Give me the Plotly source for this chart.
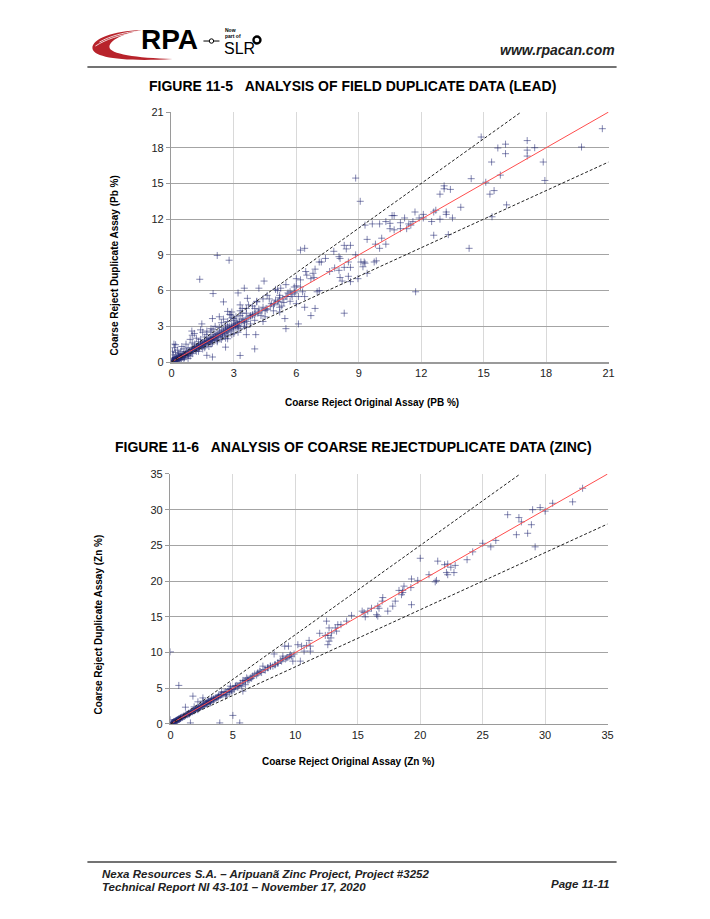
import plotly.graph_objects as go

# ---------------- DATA ----------------
pb_ticks = [0, 3, 6, 9, 12, 15, 18, 21]
zn_ticks = [0, 5, 10, 15, 20, 25, 30, 35]
pb_max = 21
zn_max = 35
upper_ratio = 1.25
lower_ratio = 0.8

pb_original = [
    14.88, 17.09, 20.7, 19.7, 15.68, 16.05, 16.05, 17.09, 17.45, 17.09, 17.86, 15.38, 17.94, 15.8, 14.4, 15.1,
    15.3, 15.5, 16.1, 15.4, 14.3, 13.1, 13.1, 13.4, 12.9, 13.9, 13.2, 13.2, 13.5, 12.9, 12.7, 12.6, 12.5, 13.3,
    12.6, 11.73, 12.1, 12.1, 11.9, 11.7, 11.6, 11.2, 11.4, 11.5, 11.3, 11.0, 10.7, 10.6, 10.5, 10.5, 10.7, 11.0,
    10.3, 10.0, 10.1, 10.3, 10.0, 9.8, 9.84, 9.74, 9.4, 9.07, 8.85, 9.65, 9.3, 9.1, 9.3, 9.26, 9.2, 9.4, 8.96,
    8.85, 8.6, 8.3, 8.4, 8.1, 7.8, 8.05, 8.5, 8.3, 8.05, 8.6, 8.5, 8.6, 8.2, 8.1, 7.84, 8.3, 7.6, 7.2, 7.4, 6.9,
    7.1, 6.8, 6.7, 6.85, 6.5, 6.45, 6.2, 6.4, 7.1, 7.0, 6.9, 6.7, 6.2, 6.0, 6.2, 6.3, 6.1, 6.4, 6.0, 6.4, 6.1,
    5.5, 5.9, 5.7, 5.5, 5.25, 5.1, 5.2, 4.9, 5.1, 5.2, 5.45, 4.45, 4.2, 4.4, 4.1, 4.2, 4.5, 4.05, 3.9, 3.65, 3.5,
    3.3, 3.6, 3.4, 3.2, 2.9, 2.85, 3.0, 3.25, 3.2, 4.05, 3.6, 4.0, 3.3, 2.77, 2.2, 1.36, 2.0, 2.5, 2.7, 1.97,
    2.3, 1.46, 2.6, 0.98, 1.0, 0.2, 2.45, 2.7, 1.97, 2.6, 1.97, 1.7,
    0.05, 0.1, 0.12, 0.2, 0.25, 0.3, 0.35, 0.4, 0.15, 0.3, 0.45, 0.5, 0.55, 0.6, 0.4, 0.65, 0.7, 0.75, 0.8,
    0.85, 0.1, 0.05, 0.2, 0.6, 0.8, 0.9, 0.05, 0.02, 0.08, 0.18, 0.22, 0.28, 0.32, 0.38, 0.42, 0.48, 0.52,
    0.58, 0.62, 0.68, 0.72, 0.78, 0.82, 0.88, 0.92, 0.95, 0.98, 0.3, 0.15, 0.45, 0.35, 0.03, 0.07, 0.11,
    0.14, 0.17, 0.21, 0.24, 0.27, 0.33, 0.36, 0.44, 0.47, 0.53, 0.57, 0.63, 0.67, 0.06, 0.09, 0.13, 0.16,
    0.19, 0.23, 0.26, 0.29, 0.04, 0.01, 0.12, 0.2, 0.34, 0.41,
    1.0, 1.05, 1.1, 1.15, 1.2, 1.25, 1.3, 1.35, 1.4, 1.45, 1.5, 1.55, 1.6, 1.65, 1.7, 1.75, 1.8, 1.85, 1.9,
    1.95, 2.0, 2.05, 2.1, 2.15, 2.2, 2.25, 2.3, 2.35, 2.4, 2.45, 2.5, 2.55, 2.6, 2.65, 2.7, 2.75, 2.8, 2.85,
    2.9, 2.95, 3.0, 3.05, 3.1, 3.15, 3.2, 3.0, 3.1, 2.9, 3.3, 3.4, 3.5, 3.6, 3.3, 3.5, 3.2, 2.6, 2.2, 1.8,
    1.5, 1.2, 1.3, 1.6, 1.9, 2.3, 2.0, 1.7, 1.4, 1.1, 1.0, 1.2, 1.5, 1.7, 1.9, 2.1, 2.4, 2.5, 2.7, 2.8, 3.3,
    3.6, 3.8, 4.0, 4.2, 4.4, 4.6, 4.8, 5.0, 4.5, 4.0, 3.8, 3.9, 4.3, 4.7, 5.2, 5.4, 5.6, 5.8, 4.9, 5.3, 3.7,
    3.4, 4.1, 4.6, 5.0, 5.5, 5.9, 6.0, 5.7, 5.2, 4.4, 3.6, 2.9, 2.4, 0.5, 0.7, 0.9, 1.1, 1.4, 0.6, 0.8, 1.0,
    1.3, 1.6, 1.9, 2.2, 2.7, 3.0, 1.02, 1.08, 1.12, 1.18, 1.22, 1.28, 1.32, 1.38, 1.42, 1.48, 1.52, 1.58,
    1.62, 1.68, 1.72, 1.78, 1.82, 1.88, 1.92, 1.98, 2.02, 2.08, 2.12, 2.18, 2.28, 2.38, 2.48, 2.58, 2.68,
    2.78, 2.88, 2.98, 3.08, 3.18, 3.28, 3.38, 3.48, 3.58, 3.68, 3.78, 3.88, 3.98, 4.15, 4.35, 4.55, 4.75,
    4.95, 5.15, 5.35, 5.55, 5.75, 5.95,
]
pb_duplicate = [
    18.9, 18.6, 19.6, 18.06, 17.98, 18.3, 17.5, 17.8, 18.0, 17.3, 16.8, 16.8, 15.25, 15.7, 15.4, 15.1,
    14.1, 14.4, 13.2, 12.2, 9.55, 14.8, 14.55, 14.5, 14.1, 13.0, 12.6, 12.4, 12.1, 12.0, 12.75, 12.6, 11.8, 10.7,
    10.65, 5.9, 12.4, 12.1, 12.1, 12.6, 11.8, 12.1, 11.6, 11.5, 11.2, 11.7, 12.3, 12.3, 11.65, 11.2, 11.1, 11.2,
    11.8, 11.6, 10.4, 9.9, 9.55, 9.9, 8.5, 8.4, 10.3, 13.5, 15.45, 11.6, 11.5, 8.4, 8.3, 8.4, 8.0, 7.45, 7.0,
    9.0, 9.8, 9.8, 9.5, 8.7, 9.3, 8.85, 8.4, 7.95, 7.7, 7.95, 7.2, 6.75, 6.8, 7.1, 7.9, 4.1, 7.6, 8.4, 8.7, 7.8,
    8.4, 7.45, 7.0, 7.1, 7.3, 7.6, 9.4, 9.55, 6.0, 5.9, 4.5, 3.9, 6.9, 7.0, 6.3, 5.9, 5.5, 5.5, 4.9, 4.6, 3.2,
    2.8, 5.8, 5.9, 5.5, 6.2, 6.0, 5.6, 4.8, 5.05, 4.6, 3.65, 6.8, 6.2, 5.3, 5.05, 4.45, 4.35, 4.1, 4.7, 5.35, 6.2,
    4.8, 4.5, 4.1, 5.8, 4.2, 3.95, 3.65, 3.4, 2.95, 2.3, 2.3, 1.1, 0.55, 8.55, 8.95, 6.95, 5.75, 5.05, 4.25, 3.65,
    3.8, 3.2, 3.1, 2.6, 2.25, 1.45, 2.1, 1.95, 1.6, 1.25, 0.42, 0.56,
    0.1, 0.05, 0.2, 0.15, 0.3, 0.2, 0.4, 0.3, 0.35, 0.45, 0.35, 0.5, 0.4, 0.65, 0.6, 0.5, 0.75, 0.6, 0.85,
    0.7, 0.6, 0.9, 0.8, 0.2, 0.3, 0.5, 0.3, 0.02, 0.15, 0.08, 0.22, 0.12, 0.28, 0.18, 0.48, 0.25, 0.62,
    0.52, 0.38, 0.62, 0.88, 0.72, 0.58, 0.95, 0.8, 1.05, 0.9, 1.0, 1.2, 0.9, 0.7, 0.05, 0.1, 0.09, 0.18,
    0.12, 0.25, 0.2, 0.3, 0.28, 0.4, 0.4, 0.5, 0.5, 0.6, 0.55, 0.7, 0.1, 0.06, 0.15, 0.12, 0.22, 0.2, 0.3,
    0.25, 0.1, 0.04, 1.5, 0.05, 0.45, 0.2,
    1.1, 0.95, 1.2, 1.0, 1.3, 1.15, 1.35, 1.2, 1.5, 1.3, 1.6, 1.4, 1.7, 1.5, 1.8, 1.6, 1.95, 1.7, 2.0, 1.8,
    2.1, 1.9, 2.3, 2.0, 2.4, 2.1, 2.5, 2.2, 2.6, 2.3, 2.7, 2.4, 2.8, 2.5, 2.9, 2.6, 3.0, 2.7, 3.1, 2.8, 3.0,
    3.2, 2.9, 3.3, 3.05, 3.5, 3.8, 3.7, 3.9, 3.6, 3.3, 3.4, 2.8, 3.0, 2.5, 2.0, 1.7, 1.3, 1.1, 0.9, 1.7, 2.1,
    2.5, 2.9, 2.7, 2.3, 1.9, 1.5, 1.6, 2.0, 2.5, 2.6, 2.8, 3.0, 3.3, 3.6, 3.4, 4.0, 4.3, 4.1, 3.9, 4.5, 4.2,
    4.6, 4.4, 4.9, 5.2, 3.8, 3.5, 3.2, 4.0, 3.9, 5.3, 5.4, 5.0, 5.8, 5.5, 4.3, 4.7, 4.8, 4.5, 5.1, 5.6, 6.1,
    6.5, 6.3, 6.4, 5.1, 4.2, 3.4, 2.9, 2.3, 1.9, 1.3, 1.5, 1.9, 2.4, 2.7, 1.1, 1.2, 0.7, 0.9, 1.2, 1.5, 1.8,
    2.2, 2.4, 1.05, 1.1, 1.1, 1.2, 1.25, 1.25, 1.35, 1.4, 1.45, 1.45, 1.55, 1.6, 1.6, 1.7, 1.75, 1.75, 1.85,
    1.9, 1.9, 2.0, 2.05, 2.1, 2.1, 2.2, 2.3, 2.4, 2.5, 2.6, 2.7, 2.8, 2.9, 3.0, 3.1, 3.2, 3.3, 3.4, 3.5, 3.6,
    3.7, 3.8, 3.9, 4.0, 4.1, 4.3, 4.5, 4.7, 4.9, 5.1, 5.3, 5.5, 5.7, 5.9,
]

zn_original = [
    33.0, 32.2, 30.6, 30.0, 29.6, 29.0, 27.0, 27.9, 28.1, 28.9, 27.7, 28.6, 29.2, 26.05, 25.65, 25.0, 24.2,
    23.75, 22.8, 22.45, 22.2, 21.95, 22.1, 22.2, 22.7, 21.4, 21.3, 21.2, 20.7, 20.0, 19.8, 19.3, 19.25, 19.3,
    18.7, 18.6, 18.6, 18.3, 18.5, 18.0, 17.8, 17.4, 17.0, 16.95, 16.6, 16.7, 16.5, 16.6, 16.1, 15.8, 15.5,
    15.35, 15.6, 14.5, 14.1, 13.65, 13.4, 13.2, 13.3, 12.9, 12.85, 12.7, 12.6, 12.6, 12.4, 12.5, 12.7, 11.95,
    11.1, 10.9, 11.2, 11.2, 10.5, 10.2, 10.7, 10.4, 9.8, 9.9, 9.55, 9.7, 9.15, 9.45, 9.3, 8.9, 9.0, 8.6, 8.3,
    8.35, 8.0, 7.8, 7.4, 7.5, 7.15, 7.0, 6.75, 6.6, 6.4, 6.2, 6.1, 6.0, 5.8, 5.7, 5.8, 5.4, 5.2, 5.1, 4.8, 4.9,
    4.5, 4.75, 4.1, 3.8, 3.5, 3.2, 2.9, 2.6, 1.8, 2.2, 1.2, 0.67, 0.0, 5.0, 5.55, 3.95, 1.6, 0.0,
    0.1, 0.2, 0.3, 0.4, 0.5, 0.6, 0.7, 0.8, 0.9, 1.0, 1.1, 1.2, 1.3, 1.4, 1.5, 1.6, 1.7, 1.8, 1.9, 2.0, 2.1,
    2.2, 2.3, 2.4, 2.5, 2.6, 2.7, 2.8, 2.9, 3.0, 3.1, 3.2, 3.3, 3.4, 3.5, 3.6, 3.7, 3.8, 3.9, 4.0, 4.2, 4.4,
    4.6, 4.8, 5.0, 5.2, 5.4, 5.6, 5.8, 6.0, 6.3, 6.6, 6.9, 7.2, 7.6, 8.0, 8.4, 8.8, 9.2, 9.6,
    0.15, 0.25, 0.35, 0.45, 0.55, 0.65, 0.75, 0.85, 0.95, 1.05, 1.15, 1.25, 1.35, 1.45, 1.55, 1.65, 1.75,
    1.85, 1.95, 2.05, 2.15, 2.25, 2.35, 2.45, 2.55, 2.65, 2.75, 2.85, 2.95, 3.05, 3.15, 3.25, 3.45, 3.65,
    3.85, 4.05, 4.3, 4.5, 4.7, 4.9, 5.3, 5.5, 5.9, 6.2, 6.5, 7.0, 7.3, 7.8, 8.2, 8.6, 9.0, 9.4,
    0.05, 0.12, 0.18, 0.22, 0.28, 0.32, 0.38, 0.42, 0.48, 0.52, 0.58, 0.62, 0.68, 0.72, 0.78, 0.82, 1.9,
    2.6, 3.3, 4.1, 4.4, 3.0, 2.2, 1.5,
]
zn_duplicate = [
    33.0, 31.1, 30.9, 29.8, 30.3, 30.0, 29.3, 28.9, 28.3, 27.9, 26.5, 26.7, 24.8, 25.7, 24.8, 25.3, 24.1,
    23.0, 22.2, 21.95, 22.4, 22.3, 21.2, 20.9, 21.2, 22.8, 20.1, 19.9, 20.9, 23.2, 20.1, 20.3, 19.1, 16.7,
    19.3, 18.7, 18.4, 18.7, 18.1, 17.2, 16.5, 15.8, 17.7, 17.2, 16.5, 16.2, 15.3, 15.1, 16.2, 15.8, 15.6,
    15.8, 15.0, 15.2, 14.4, 13.9, 13.9, 13.45, 13.0, 12.75, 12.05, 11.6, 11.1, 12.4, 12.4, 14.4, 13.45, 12.7,
    11.7, 11.0, 10.9, 10.2, 10.9, 11.1, 10.2, 8.8, 8.8, 9.8, 9.5, 9.5, 10.9, 10.9, 9.25, 8.8, 9.5, 8.55, 9.8,
    8.3, 8.1, 7.85, 8.1, 7.6, 7.4, 7.15, 7.0, 6.7, 6.45, 6.1, 6.45, 5.5, 6.1, 5.3, 4.6, 5.15, 5.3, 4.8, 5.3,
    4.6, 4.1, 4.35, 4.1, 3.75, 3.5, 2.95, 2.95, 3.65, 3.9, 3.1, 2.35, 5.4, 10.1, 1.2, 0.15, 0.15, 0.15, 0.6,
    0.1, 0.2, 0.3, 0.35, 0.5, 0.6, 0.65, 0.8, 0.95, 1.0, 1.05, 1.2, 1.35, 1.4, 1.45, 1.6, 1.75, 1.8, 1.85,
    2.0, 2.15, 2.2, 2.25, 2.45, 2.5, 2.55, 2.75, 2.8, 2.85, 3.05, 3.1, 3.15, 3.35, 3.4, 3.45, 3.65, 3.7, 3.75,
    3.95, 4.0, 4.1, 4.5, 4.55, 4.9, 4.95, 5.3, 5.35, 5.7, 5.75, 6.1, 6.2, 6.7, 6.85, 7.3, 7.55, 8.1, 8.3,
    8.9, 9.1, 9.7,
    0.12, 0.28, 0.32, 0.48, 0.52, 0.68, 0.72, 0.88, 0.9, 1.1, 1.12, 1.3, 1.3, 1.5, 1.5, 1.7, 1.7, 1.9, 1.9,
    2.1, 2.1, 2.3, 2.3, 2.5, 2.5, 2.7, 2.7, 2.9, 2.9, 3.1, 3.1, 3.3, 3.5, 3.6, 3.9, 4.1, 4.4, 4.4, 4.8, 4.8,
    5.4, 5.4, 6.0, 6.3, 6.4, 7.1, 7.2, 7.9, 8.1, 8.5, 9.1, 9.3,
    0.06, 0.11, 0.2, 0.21, 0.3, 0.31, 0.4, 0.41, 0.5, 0.51, 0.6, 0.61, 0.7, 0.71, 0.8, 0.81, 2.4,
    3.2, 3.6, 4.5, 3.9, 3.3, 2.0, 1.4,
]

# ---------------- FIGURE ----------------
W, H = 710, 919
S = 0.987  # observed render shrink about the page centre, compensated below
FONT = "Arial, Liberation Sans, sans-serif"
MARK = dict(symbol="cross-thin", size=5, color="rgba(35,40,115,0.55)",
            line=dict(width=1, color="rgba(35,40,115,0.55)"))


def px_x(v):
    return (W / 2 + (v - W / 2) / S) / W


def px_y(v):
    return 1 - (H / 2 + (v - H / 2) / S) / H


fig = go.Figure()

# chart 1 (lead)
fig.add_trace(go.Scatter(x=pb_original, y=pb_duplicate, mode="markers", marker=MARK,
                         xaxis="x", yaxis="y", hoverinfo="skip"))
fig.add_trace(go.Scatter(x=[0, pb_max], y=[0, pb_max], mode="lines",
                         line=dict(color="#ff4d4d", width=1), xaxis="x", yaxis="y"))
fig.add_trace(go.Scatter(x=[0, pb_max / upper_ratio], y=[0, pb_max], mode="lines",
                         line=dict(color="#222", width=1, dash="3px,2px"), xaxis="x", yaxis="y"))
fig.add_trace(go.Scatter(x=[0, pb_max], y=[0, pb_max * lower_ratio], mode="lines",
                         line=dict(color="#222", width=1, dash="3px,2px"), xaxis="x", yaxis="y"))

# chart 2 (zinc)
fig.add_trace(go.Scatter(x=zn_original, y=zn_duplicate, mode="markers", marker=MARK,
                         xaxis="x2", yaxis="y2", hoverinfo="skip"))
fig.add_trace(go.Scatter(x=[0, zn_max], y=[0, zn_max], mode="lines",
                         line=dict(color="#ff4d4d", width=1), xaxis="x2", yaxis="y2"))
fig.add_trace(go.Scatter(x=[0, zn_max / upper_ratio], y=[0, zn_max], mode="lines",
                         line=dict(color="#222", width=1, dash="3px,2px"), xaxis="x2", yaxis="y2"))
fig.add_trace(go.Scatter(x=[0, zn_max], y=[0, zn_max * lower_ratio], mode="lines",
                         line=dict(color="#222", width=1, dash="3px,2px"), xaxis="x2", yaxis="y2"))

tickfont = dict(family=FONT, size=11, color="#222")
xcommon = dict(showgrid=True, gridcolor="#d9d9d9", gridwidth=1, zeroline=False,
               showline=True, linecolor="#9a9a9a", linewidth=1.5, ticks="", tickfont=tickfont,
               fixedrange=True)
ycommon = dict(showgrid=True, gridcolor="#a4a4a4", gridwidth=1, zeroline=False,
               showline=True, linecolor="#9a9a9a", linewidth=1.5, ticks="outside", ticklen=4,
               tickcolor="#9a9a9a", tickfont=tickfont, fixedrange=True)

fig.update_layout(
    width=W, height=H, margin=dict(l=0, r=0, t=0, b=0),
    paper_bgcolor="white", plot_bgcolor="white", showlegend=False,
    xaxis=dict(domain=[px_x(173), px_x(610)], anchor="y", range=[0, pb_max],
               tickvals=pb_ticks, **xcommon),
    yaxis=dict(domain=[px_y(362), px_y(112)], anchor="x", range=[0, pb_max],
               tickvals=pb_ticks, **ycommon),
    xaxis2=dict(domain=[px_x(172), px_x(609)], anchor="y2", range=[0, zn_max],
                tickvals=zn_ticks, **xcommon),
    yaxis2=dict(domain=[px_y(724), px_y(474)], anchor="x2", range=[0, zn_max],
                tickvals=zn_ticks, **ycommon),
)

shapes = []
annos = []


def path_px(pts_str):
    out = []
    for tok in pts_str.split():
        if "," in tok:
            a, b = tok.split(",")
            out.append("%.5f,%.5f" % (px_x(float(a)), px_y(float(b))))
        else:
            out.append(tok)
    return " ".join(out)


def text(x, y, s, size, bold=True, italic=False, xanchor="center", color="black", angle=0, family=FONT):
    t = s
    if bold:
        t = "<b>" + t + "</b>"
    if italic:
        t = "<i>" + t + "</i>"
    annos.append(dict(x=px_x(x), y=px_y(y), xref="paper", yref="paper", text=t, showarrow=False,
                      xanchor=xanchor, yanchor="middle", textangle=angle,
                      font=dict(family=family, size=size, color=color)))


def hline(x0, x1, y, color, width):
    shapes.append(dict(type="line", xref="paper", yref="paper", x0=px_x(x0), x1=px_x(x1),
                       y0=px_y(y), y1=px_y(y), line=dict(color=color, width=width)))


def circle(cx, cy, r, fill, lc, lw):
    shapes.append(dict(type="circle", xref="paper", yref="paper", x0=px_x(cx - r), x1=px_x(cx + r),
                       y0=px_y(cy + r), y1=px_y(cy - r), fillcolor=fill, line=dict(color=lc, width=lw)))


# header logo
shapes.append(dict(type="path", xref="paper", yref="paper",
                   path=path_px("M 143,30 C 114,31 94,39 94,48 C 94,57 122,62 174,59 "
                                "C 138,58 111,54 111,47 C 111,40 125,34 143,30 Z"),
                   fillcolor="#b8232b", line=dict(width=0)))
shapes.append(dict(type="path", xref="paper", yref="paper",
                   path=path_px("M 101,42 C 112,36 126,32 141,31"), line=dict(color="white", width=0.8)))
shapes.append(dict(type="path", xref="paper", yref="paper",
                   path=path_px("M 97,46 C 108,39 121,35 135,33"), line=dict(color="white", width=0.8)))
text(171, 39, "RPA", 28, family="Liberation Sans, Arial")
hline(205, 221, 41, "black", 1)
circle(213, 41, 2.2, "white", "black", 1)
text(225, 30, "Now", 5, xanchor="left")
text(225, 35.5, "part of", 5, xanchor="left")
text(224, 48, "SLR", 16, bold=False, xanchor="left")
circle(258.5, 40, 3.5, "white", "black", 2.4)
text(618, 50, "www.rpacan.com", 14, italic=True, xanchor="right", color="#222")
hline(89, 618, 67, "#444", 1.5)

# titles
text(354, 86, "FIGURE 11-5\u00a0\u00a0\u00a0ANALYSIS OF FIELD DUPLICATE DATA (LEAD)", 14)
text(373, 402, "Coarse Reject Original Assay (PB %)", 10)
text(116, 265, "Coarse Reject Duplicate Assay (Pb %)", 10, angle=-90)

text(355, 447, "FIGURE 11-6\u00a0\u00a0\u00a0ANALYSIS OF COARSE REJECTDUPLICATE DATA (ZINC)", 14)
text(350, 762, "Coarse Reject Original Assay (Zn %)", 10)
text(101, 624, "Coarse Reject Duplicate Assay (Zn %)", 10, angle=-90)

# footer
hline(89, 618, 862, "#444", 1.5)
text(102, 874, "Nexa Resources S.A. – Aripuanã Zinc Project, Project #3252", 11.5, italic=True,
     xanchor="left", color="#222")
text(102, 887, "Technical Report NI 43-101 – November 17, 2020", 11.5, italic=True,
     xanchor="left", color="#222")
text(612, 884, "Page 11-11", 11.5, italic=True, xanchor="right", color="#222")

fig.update_layout(shapes=shapes, annotations=annos)

fig.write_html("out.html", config={"displayModeBar": False, "staticPlot": True},
               post_script="document.body.style.margin='0';document.body.style.overflow='hidden';")
